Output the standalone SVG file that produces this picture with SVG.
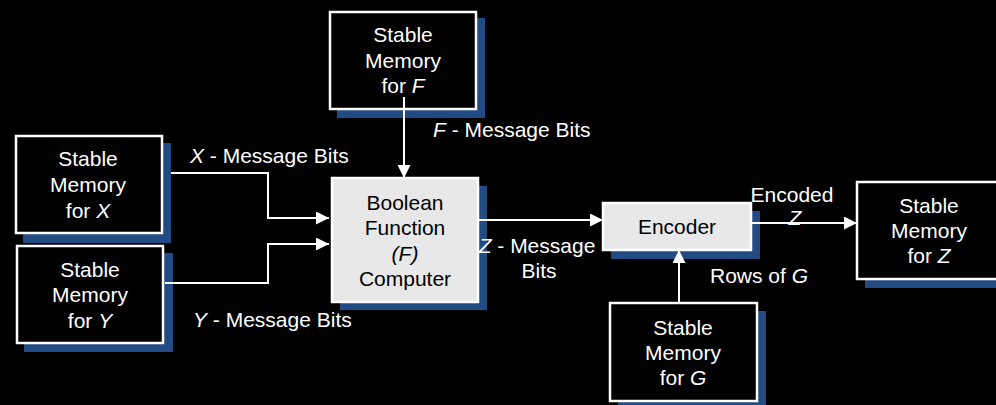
<svg xmlns="http://www.w3.org/2000/svg" width="996" height="405" viewBox="0 0 996 405">
  <defs>
    <marker id="arrow" markerUnits="userSpaceOnUse" markerWidth="13" markerHeight="13" refX="13" refY="6.5" orient="auto">
      <path d="M0,0 L13,6.5 L0,13 Z" fill="#ffffff"/>
    </marker>
  </defs>
  <style>
    text { font-family: "Liberation Sans", Arial, sans-serif; font-size: 21px; }
    .shadow { fill: #224b84; }
    .mem { fill: #000000; stroke: #ffffff; stroke-width: 2.5; }
    .proc { fill: #e8e8e8; stroke: #ffffff; stroke-width: 2.5; }
    .wt { fill: #ffffff; text-anchor: middle; }
    .bt { fill: #000000; text-anchor: middle; }
    .lbl { fill: #ffffff; }
    .conn { fill: none; stroke: #ffffff; stroke-width: 2; marker-end: url(#arrow); }
  </style>
  <rect width="996" height="405" fill="#000000"/>

  <g id="mem-x">
    <rect class="shadow" x="23" y="143" width="148" height="100"/>
    <rect class="mem" x="16" y="136" width="146" height="97"/>
    <text class="wt" x="88" y="166">Stable</text>
    <text class="wt" x="88" y="192">Memory</text>
    <text class="wt" x="88" y="218">for <tspan font-style="italic">X</tspan></text>
  </g>

  <g id="mem-y">
    <rect class="shadow" x="24" y="253" width="149" height="99"/>
    <rect class="mem" x="17" y="246" width="146" height="97"/>
    <text class="wt" x="90" y="277">Stable</text>
    <text class="wt" x="90" y="302">Memory</text>
    <text class="wt" x="90" y="328">for <tspan font-style="italic">Y</tspan></text>
  </g>

  <g id="mem-f">
    <rect class="shadow" x="337" y="18" width="148" height="100"/>
    <rect class="mem" x="330" y="12" width="146" height="97"/>
    <text class="wt" x="403" y="42">Stable</text>
    <text class="wt" x="403" y="68">Memory</text>
    <text class="wt" x="403" y="93">for <tspan font-style="italic">F</tspan></text>
  </g>

  <g id="boolean-computer">
    <rect class="shadow" x="340" y="186" width="147" height="124"/>
    <rect class="proc" x="332" y="178" width="146" height="124"/>
    <text class="bt" x="405" y="210">Boolean</text>
    <text class="bt" x="405" y="235">Function</text>
    <text class="bt" x="405" y="261" font-style="italic">(F)</text>
    <text class="bt" x="405" y="286">Computer</text>
  </g>

  <g id="encoder">
    <rect class="shadow" x="611" y="211" width="149" height="48"/>
    <rect class="proc" x="603" y="203" width="148" height="47"/>
    <text class="bt" x="677" y="234">Encoder</text>
  </g>

  <g id="mem-g">
    <rect class="shadow" x="618" y="311" width="148" height="100"/>
    <rect class="mem" x="610" y="303" width="147" height="98"/>
    <text class="wt" x="683" y="335">Stable</text>
    <text class="wt" x="683" y="360">Memory</text>
    <text class="wt" x="683" y="385">for <tspan font-style="italic">G</tspan></text>
  </g>

  <g id="mem-z">
    <rect class="shadow" x="865" y="190" width="140" height="98"/>
    <rect class="mem" x="857" y="182" width="145" height="97"/>
    <text class="wt" x="929" y="213">Stable</text>
    <text class="wt" x="929" y="238">Memory</text>
    <text class="wt" x="929" y="263">for <tspan font-style="italic">Z</tspan></text>
  </g>

  <g id="connectors">
    <path class="conn" d="M171,173 H268 V218 H329"/>
    <path class="conn" d="M165,283 H268 V244 H329"/>
    <path class="conn" d="M404,97 V178"/>
    <path class="conn" d="M478,220 H603"/>
    <path class="conn" d="M679,303 V250"/>
    <path class="conn" d="M751,223 H857"/>

    <text class="lbl" x="190" y="163"><tspan font-style="italic">X</tspan> - Message Bits</text>
    <text class="lbl" x="193" y="327"><tspan font-style="italic">Y</tspan> - Message Bits</text>
    <text class="lbl" x="433" y="137"><tspan font-style="italic">F</tspan> - Message Bits</text>
    <text class="lbl" x="537" y="253" text-anchor="middle"><tspan font-style="italic">Z</tspan> - Message</text>
    <text class="lbl" x="539" y="278" text-anchor="middle">Bits</text>
    <text class="lbl" x="792" y="202" text-anchor="middle">Encoded</text>
    <text class="lbl" x="795" y="225" text-anchor="middle" font-style="italic">Z</text>
    <text class="lbl" x="710" y="283"><tspan>Rows of </tspan><tspan font-style="italic">G</tspan></text>
  </g>
</svg>
